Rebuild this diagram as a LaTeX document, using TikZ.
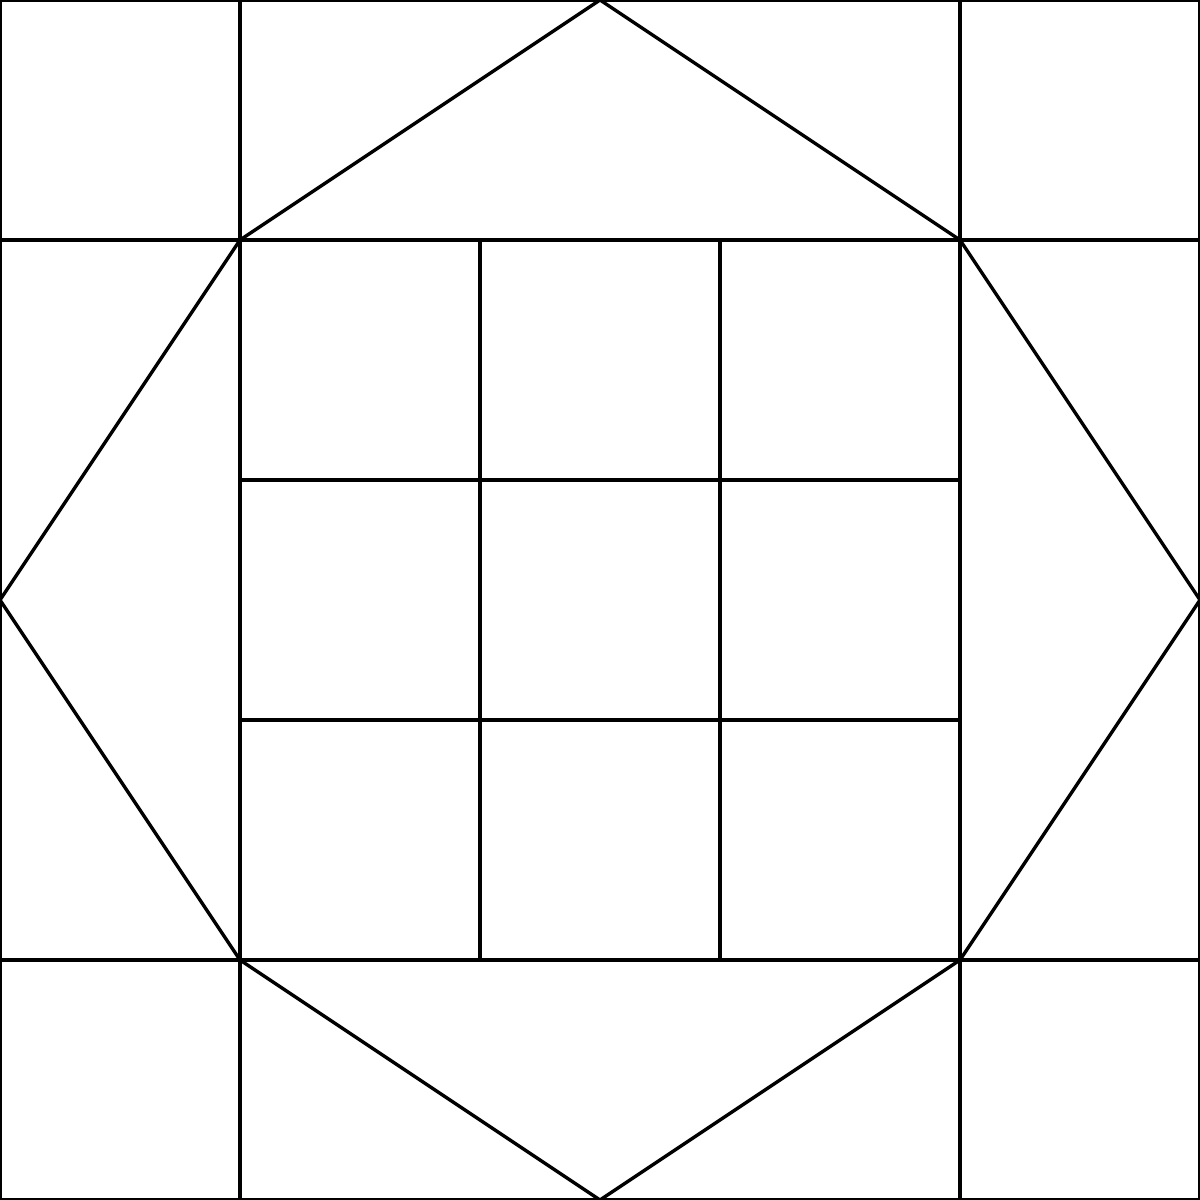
\documentclass[tikz,border=0pt]{standalone}
\usepackage{tikz}

\tikzset{
  quilt/.style={line width=0.8pt, line join=miter, black},
}

\begin{document}
\begin{tikzpicture}[x=2cm, y=2cm]
            \useasboundingbox (0,0) rectangle (5,5);

            % corner points of the octagon
            \coordinate (T) at (2.5,5);
            \coordinate (TR) at (4,4);
            \coordinate (R) at (5,2.5);
            \coordinate (BR) at (4,1);
            \coordinate (B) at (2.5,0);
            \coordinate (BL) at (1,1);
            \coordinate (L) at (0,2.5);
            \coordinate (TL) at (1,4);

            % outer frame and the big grid
            \draw[quilt] (0,0) rectangle (5,5);
            \draw[quilt] (1,0) -- (1,5) (4,0) -- (4,5);
            \draw[quilt] (0,1) -- (5,1) (0,4) -- (5,4);

            % inner 3x3 grid
            \draw[quilt] (2,1) -- (2,4) (3,1) -- (3,4);
            \draw[quilt] (1,2) -- (4,2) (1,3) -- (4,3);

            % octagon
            \draw[quilt] (T) -- (TR) -- (R) -- (BR) -- (B) -- (BL) -- (L) -- (TL) -- cycle;

        \end{tikzpicture}
\end{document}
